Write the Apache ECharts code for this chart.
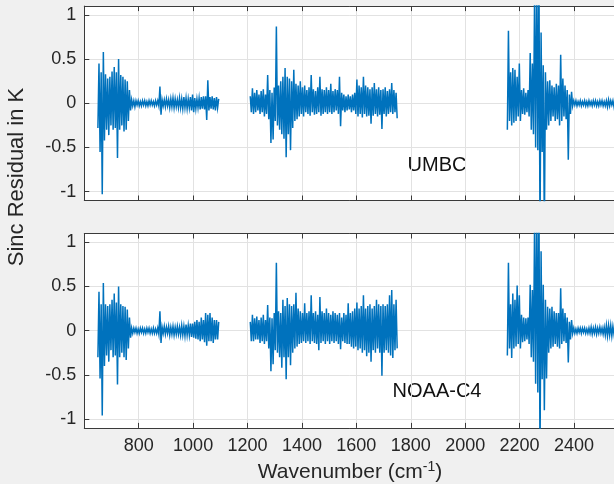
<!DOCTYPE html>
<html>
<head>
<meta charset="utf-8">
<script src="https://cdn.jsdelivr.net/npm/echarts@6/dist/echarts.min.js"></script>
<style>
html,body{margin:0;padding:0;background:#f0f0f0;}
#chart{width:614px;height:484px;}
</style>
</head>
<body>
<div id="chart"></div>
<script>
// Wavenumber grid of each band (cm^-1): start and channel spacing
const band1Start = 650, band2Start = 1210, band3Start = 2155, bandStep = 4;
const xTickLabels = [800, 1000, 1200, 1400, 1600, 1800, 2000, 2200, 2400];
const yTickLabels = [-1, -0.5, 0, 0.5, 1];
const panelNames = ['UMBC', 'NOAA-C4'];

// UMBC residuals (K)
const umbcBand1 = [
-.28,.45,-.55,.35,-1.03,.58,-.42,.33,-.3,.28,
-.36,.3,-.25,.36,-.3,.41,-.28,.35,-.62,.5,
-.3,.32,-.25,.3,-.32,.27,-.3,.25,-.2,.15,
-.08,
.04,-.03,.03,-.04,.03,-.02,.03,-.03,.02,-.03,
.03,-.02,.03,-.03,.02,-.03,.03,-.02,.03,-.02,
.02,-.03,.03,-.02,.03,-.03,.19,-.13,.04,-.03,
.04,-.04,.05,-.03,.04,-.05,.05,-.04,.06,-.05,
.05,-.04,.04,-.05,.06,-.05,.05,-.06,.07,-.05,
.06,-.06,.05,-.05,.07,-.08,.1,-.1,.06,-.06,
.05,-.05,.06,-.07,.07,-.06,.08,-.07,.08,-.19,
.26,-.08,.07,-.06,.08,-.07,.06,-.08,.07,-.05,
.05];
const umbcBand2 = [
.08,-.1,.17,-.12,.12,-.1,.15,-.08,.1,-.12,
.14,-.1,.16,-.15,.1,-.12,.32,-.18,.15,-.45,
.12,-.41,.18,-.2,.87,-.25,.2,-.3,.25,-.35,
.3,-.4,.4,-.61,.3,-.35,.28,-.53,.25,-.28,
.38,-.2,.22,-.18,.2,-.15,.25,-.12,.18,-.15,
.2,-.1,.15,-.12,.18,-.14,.32,-.1,.16,-.13,
.14,-.12,.18,-.1,.3,-.14,.16,-.12,.15,-.1,
.18,-.12,.15,-.1,.22,-.12,.14,-.1,.16,-.08,
.15,-.12,.3,-.26,.12,-.08,.1,-.1,.08,-.08,
.1,-.07,.08,-.1,.1,-.08,.12,-.12,.27,-.15,
.2,-.12,.18,-.16,.3,-.12,.2,-.15,.18,-.14,
.16,-.23,.18,-.14,.23,-.12,.16,-.15,.18,-.13,
.15,-.29,.16,-.12,.18,-.15,.14,-.12,.16,-.1,
.23,-.12,.15,-.1,.12,-.17];
const umbcBand3 = [
-.3,.82,-.2,.35,-.25,.4,-.22,.38,-.2,.3,
-.15,.45,-.2,.15,-.12,.17,-.13,.12,-.1,.15,
-.15,.57,-.3,.45,-.35,1.2,-.5,1.4,-.53,1.6,
-1.5,.8,-.55,.43,-1.5,.35,-.3,.25,-.25,.26,
-.2,.2,-.15,.18,-.2,.22,-.18,.2,-.25,.55,
-.2,.28,-.15,.2,-.18,.15,-.64,.1,-.12,.13,
-.03,.03,-.02,.03,-.03,.02,-.02,.03,-.03,.02,
-.02,.03,-.03,.02,-.03,.03,-.02,.02,-.03,.03,
-.02,.03,-.03,.02,-.03,.03,-.02,.03,-.03,.02,
-.03,.03,-.04,.04,-.03,.03,-.02,.03,-.04,.05,
-.04,.04];

// NOAA-C4 residuals (K)
const noaaBand1 = [
-.3,.44,-.54,.3,-.96,.54,-.4,.3,-.28,.28,
-.35,.3,-.22,.35,-.3,.42,-.28,.32,-.61,.5,
-.3,.3,-.25,.28,-.3,.27,-.33,.24,-.2,.15,
-.08,
.03,-.03,.03,-.02,.03,-.03,.02,-.03,.03,-.02,
.03,-.03,.02,-.03,.03,-.02,.03,-.03,.02,-.03,
.03,-.03,.02,-.03,.03,-.04,.22,-.14,.04,-.03,
.05,-.04,.04,-.03,.05,-.05,.04,-.04,.05,-.05,
.04,-.04,.05,-.04,.04,-.05,.06,-.05,.05,-.06,
.07,-.05,.06,-.05,.08,-.07,.08,-.08,.1,-.09,
.12,-.1,.1,-.12,.15,-.1,.12,-.13,.2,-.17,
.18,-.12,.2,-.12,.15,-.14,.12,-.1,.12,-.1,
.1];
const noaaBand2 = [
.1,-.12,.18,-.12,.14,-.1,.16,-.1,.12,-.14,
.15,-.12,.18,-.15,.12,-.12,.29,-.2,.15,-.46,
.14,-.38,.2,-.22,.77,-.25,.22,-.3,.2,-.42,
.35,-.3,.28,-.55,.37,-.3,.3,-.39,.28,-.25,
.3,-.2,.43,-.18,.25,-.15,.22,-.14,.2,-.12,
.31,-.14,.2,-.12,.22,-.15,.4,-.12,.2,-.14,
.22,-.15,.18,-.22,.38,-.14,.22,-.12,.2,-.15,
.25,-.12,.2,-.15,.18,-.12,.22,-.14,.2,-.12,
.18,-.15,.2,-.21,.15,-.12,.2,-.14,.18,-.15,
.31,-.15,.2,-.18,.22,-.2,.25,-.18,.32,-.22,
.25,-.2,.28,-.25,.4,-.22,.25,-.29,.28,-.25,
.3,-.35,.25,-.22,.28,-.25,.35,-.2,.3,-.25,
.28,-.51,.3,-.25,.28,-.22,.3,-.25,.4,-.28,
.46,-.31,.3,-.22,.35,-.2];
const noaaBand3 = [
-.28,.77,-.2,.3,-.31,.42,-.2,.35,-.18,.51,
-.15,.4,-.2,.18,-.13,.15,-.12,.14,-.1,.15,
-.15,.52,-.3,.46,-.35,1.2,-.6,1.4,-.7,1.6,
-1.5,.9,-.55,.52,-.9,.35,-.54,.27,-.25,.25,
-.2,.27,-.18,.22,-.15,.2,-.18,.2,-.2,.48,
-.15,.25,-.12,.2,-.14,.15,-.36,.1,-.1,.12,
-.03,.03,-.03,.02,-.03,.03,-.02,.03,-.03,.03,
-.02,.03,-.03,.02,-.03,.03,-.03,.04,-.04,.03,
-.03,.04,-.04,.03,-.03,.04,-.03,.03,-.04,.04,
-.05,.06,-.06,.06,-.05,.06,-.06,.05,-.04,.05,
-.05,.06];

const FONT = "'Liberation Sans', Arial, Helvetica, sans-serif";
const LINE = '#0072BD';
const AXIS = '#3a3a3a';
const TXT = '#262626';
const GRIDC = '#e2e2e2';
const X_MIN = 600, X_MAX = 2547;

function pts(start, arr) { return arr.map((v, i) => [start + bandStep * i, v]); }

const grids = [
  {left: 84.3, top: 6.1, right: 0, height: 194.4},
  {left: 84.3, top: 233.5, right: 0, height: 194.4}
];

function xAx(gi, pos, labels) {
  return {
    type: 'value', gridIndex: gi, position: pos, min: X_MIN, max: X_MAX, interval: 200,
    axisLine: {show: true, onZero: false, lineStyle: {color: AXIS, width: 1}},
    axisTick: {show: true, inside: true, length: 5, lineStyle: {color: AXIS}},
    splitLine: {show: pos === 'bottom', lineStyle: {color: GRIDC, width: 1}},
    axisLabel: {
      show: labels, margin: 9, color: TXT, fontSize: 18, fontFamily: FONT,
      showMinLabel: false, showMaxLabel: false,
      formatter: v => xTickLabels.indexOf(v) >= 0 ? String(v) : ''
    }
  };
}
function yAx(gi) {
  return {
    type: 'value', gridIndex: gi, min: -1.1, max: 1.1, position: 'left',
    axisLine: {show: true, onZero: false, lineStyle: {color: AXIS, width: 1}},
    axisTick: {show: true, inside: true, length: 5, lineStyle: {color: AXIS}},
    splitLine: {show: true, lineStyle: {color: GRIDC, width: 1}},
    axisLabel: {
      margin: 8, color: TXT, fontSize: 18, fontFamily: FONT,
      showMinLabel: false, showMaxLabel: false,
      formatter: v => {
        const m = yTickLabels.find(t => Math.abs(t - v) < 1e-9);
        return m === undefined ? '' : String(m);
      }
    }
  };
}

function ser(xi, start, arr) {
  return {
    type: 'line', xAxisIndex: xi, yAxisIndex: xi, data: pts(start, arr),
    showSymbol: false, symbol: 'none', clip: true, silent: true,
    lineStyle: {color: LINE, width: 1.5, join: 'miter'}, animation: false
  };
}

const option = {
  backgroundColor: '#f0f0f0',
  animation: false,
  grid: grids.map(g => Object.assign({backgroundColor: '#ffffff', show: true, borderWidth: 0}, g)),
  xAxis: [xAx(0, 'bottom', false), xAx(1, 'bottom', true), xAx(0, 'top', false), xAx(1, 'top', false)],
  yAxis: [yAx(0), yAx(1)],
  series: [
    ser(0, band1Start, umbcBand1), ser(0, band2Start, umbcBand2), ser(0, band3Start, umbcBand3),
    ser(1, band1Start, noaaBand1), ser(1, band2Start, noaaBand2), ser(1, band3Start, noaaBand3)
  ],
  graphic: [
    {type: 'text', x: 437, y: 165, style: {text: panelNames[0], fill: '#111', font: '20px ' + FONT, textAlign: 'center', textVerticalAlign: 'middle'}},
    {type: 'text', x: 437, y: 391, style: {text: panelNames[1], fill: '#111', font: '20px ' + FONT, textAlign: 'center', textVerticalAlign: 'middle'}},
    {type: 'text', x: 17, y: 177, rotation: Math.PI / 2,
     style: {text: 'Sinc Residual in K', fill: TXT, font: '22px ' + FONT, textAlign: 'center', textVerticalAlign: 'middle'}},
    {type: 'text', x: 350, y: 472,
     style: {text: 'Wavenumber (cm{sup|-1})', fill: TXT, font: '21px ' + FONT, textAlign: 'center', textVerticalAlign: 'middle',
       rich: {sup: {fontSize: 14, fontFamily: FONT, fill: TXT, verticalAlign: 'top', lineHeight: 24}}}}
  ]
};

const chart = echarts.init(document.getElementById('chart'), null, {renderer: 'canvas'});
chart.setOption(option);
</script>
</body>
</html>
